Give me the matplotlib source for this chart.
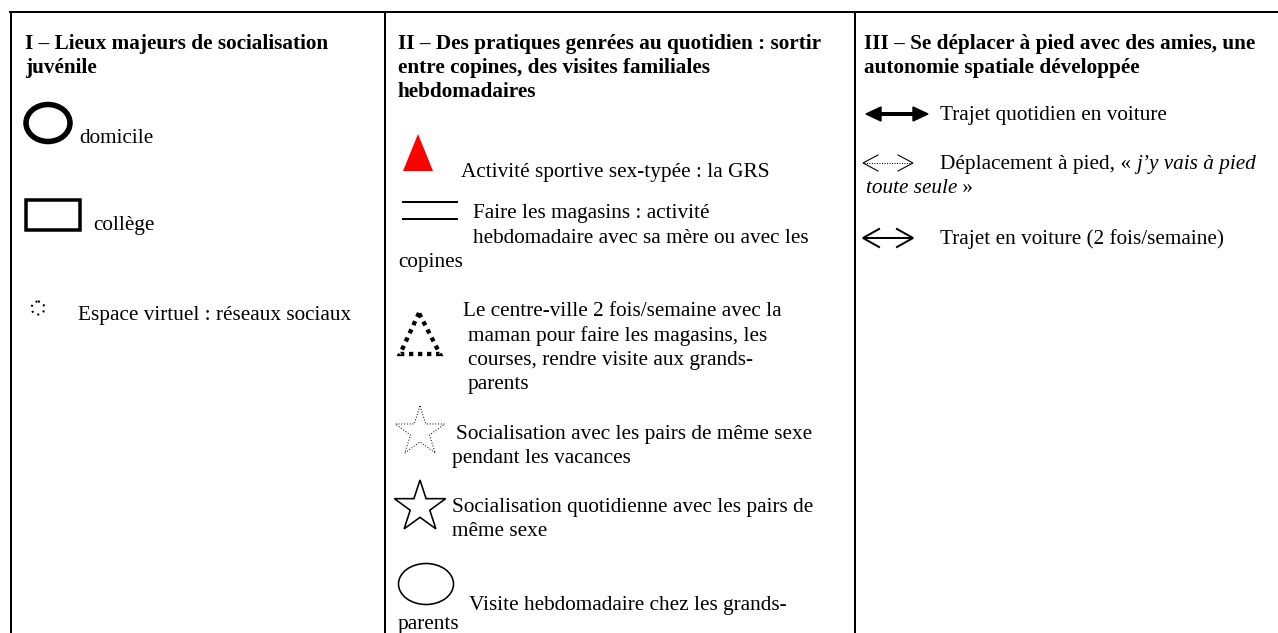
import numpy as np
import matplotlib
matplotlib.use('Agg')
import matplotlib.pyplot as plt
from matplotlib.patches import Ellipse, Rectangle, Polygon, Circle

W, H = 1278, 633
PX = 0.72          # points per pixel at dpi 100
FS = 15.3
SERIF = 'Liberation Serif'

# legend texts, one list per column
title_1 = ["I – Lieux majeurs de socialisation", "juvénile"]
title_2 = ["II – Des pratiques genrées au quotidien : sortir",
           "entre copines, des visites familiales", "hebdomadaires"]
title_3 = ["III – Se déplacer à pied avec des amies, une",
           "autonomie spatiale développée"]

lieux = ["domicile", "collège", "Espace virtuel : réseaux sociaux"]

pratiques = [
    ["Activité sportive sex-typée : la GRS"],
    ["Faire les magasins : activité", "hebdomadaire avec sa mère ou avec les", "copines"],
    ["Le centre-ville 2 fois/semaine avec la", "maman pour faire les magasins, les",
     "courses, rendre visite aux grands-", "parents"],
    ["Socialisation avec les pairs de même sexe", "pendant les vacances"],
    ["Socialisation quotidienne avec les pairs de", "même sexe"],
    ["Visite hebdomadaire chez les grands-", "parents"],
]

trajets = ["Trajet quotidien en voiture",
           ("Déplacement à pied, « ", "j’y vais à pied", "toute seule", " »"),
           "Trajet en voiture (2 fois/semaine)"]

fig = plt.figure(figsize=(W / 100, H / 100), dpi=100)
ax = fig.add_axes([0, 0, 1, 1])
ax.set_xlim(0, W)
ax.set_ylim(H, 0)
ax.axis('off')


def txt(x, y, s, **kw):
    return ax.text(x, y, s, fontsize=FS, family=SERIF, va='baseline', ha='left', **kw)


def star(cx, cy, r, ri=0.382):
    a = np.pi / 2 + np.arange(10) * np.pi / 5
    rr = np.where(np.arange(10) % 2 == 0, r, r * ri)
    return np.column_stack([cx + rr * np.cos(a), cy - rr * np.sin(a)])


def chevron(x, y, d, ln, hw, lw):
    ax.plot([x + d * ln, x, x + d * ln], [y - hw, y, y + hw], color='k', lw=lw * PX,
            solid_joinstyle='miter')


def right_edge(t):
    fig.canvas.draw()
    return ax.transData.inverted().transform(t.get_window_extent().p1)[0]


# table frame
ax.plot([10, W], [12, 12], color='k', lw=2 * PX)
for xv in (11, 385, 855):
    ax.plot([xv, xv], [12, H], color='k', lw=2 * PX)

# titles
for i, s in enumerate(title_1):
    txt(25, 49 + 24 * i, s, weight='bold')
for i, s in enumerate(title_2):
    txt(398, 49 + 24 * i, s, weight='bold')
for i, s in enumerate(title_3):
    txt(864, 49 + 24 * i, s, weight='bold')

# column I
ax.add_patch(Ellipse((48, 123), 44, 37, fill=False, lw=5.5 * PX, ec='k'))
txt(79, 143, lieux[0])
ax.add_patch(Rectangle((26, 200), 54, 30, fill=False, lw=3.5 * PX, ec='k'))
txt(93, 230, lieux[1])
ax.add_patch(Circle((38, 308), 6.5, fill=False, lw=2 * PX, ec='k', ls=(0, (1, 2.2))))
txt(78, 320, lieux[2])

# column II
ax.add_patch(Polygon([(418, 134), (403, 171), (433, 171)], closed=True, fc='red', ec='none'))
txt(461, 177, pratiques[0][0])

ax.plot([403, 457], [202, 202], color='k', lw=2 * PX)
ax.plot([403, 457], [219, 219], color='k', lw=2 * PX)
txt(473, 218, pratiques[1][0])
txt(473, 243, pratiques[1][1])
txt(398, 267, pratiques[1][2])

ax.add_patch(Polygon([(419, 313), (400, 354), (440, 354)], closed=True, fill=False,
                     ec='k', lw=4.3 * PX, ls=(0, (1, 1.1)), capstyle='butt'))
txt(463, 316, pratiques[2][0])
for i, s in enumerate(pratiques[2][1:]):
    txt(468, 341 + 24 * i, s)

ax.add_patch(Polygon(star(420, 432, 26), closed=True, fill=False, ec='k',
                     lw=1 * PX, ls=(0, (1, 1.8))))
txt(456, 439, pratiques[3][0])
txt(452, 463, pratiques[3][1])

ax.add_patch(Polygon(star(420, 507, 27), closed=True, fill=False, ec='k',
                     lw=1.6 * PX, joinstyle='miter'))
txt(452, 512, pratiques[4][0])
txt(452, 536, pratiques[4][1])

ax.add_patch(Ellipse((426, 584), 55, 41, fill=False, ec='k', lw=1.6 * PX))
txt(469, 610, pratiques[5][0])
txt(398, 629, pratiques[5][1])

# column III
ax.plot([878, 916], [114, 114], color='k', lw=4 * PX, solid_capstyle='butt')
ax.add_patch(Polygon([(866, 114), (881, 107), (881, 121)], closed=True, fc='k', ec='k', lw=1))
ax.add_patch(Polygon([(928, 114), (913, 107), (913, 121)], closed=True, fc='k', ec='k', lw=1))
txt(940, 120, trajets[0])

ax.plot([864, 911], [163, 163], color='k', lw=1 * PX, ls=(0, (1, 1.5)))
chevron(863, 163, 1, 15, 8, 1.1)
chevron(913, 163, -1, 15, 8, 1.1)
t = txt(940, 169, trajets[1][0])
txt(right_edge(t), 169, trajets[1][1], style='italic')
t2 = txt(866, 193, trajets[1][2], style='italic')
txt(right_edge(t2), 193, trajets[1][3])

ax.plot([864, 911], [238, 238], color='k', lw=2 * PX)
chevron(863, 238, 1, 16, 9, 2)
chevron(913, 238, -1, 16, 9, 2)
txt(940, 244, trajets[2])

fig.savefig('out.png', dpi=100, facecolor='white')
